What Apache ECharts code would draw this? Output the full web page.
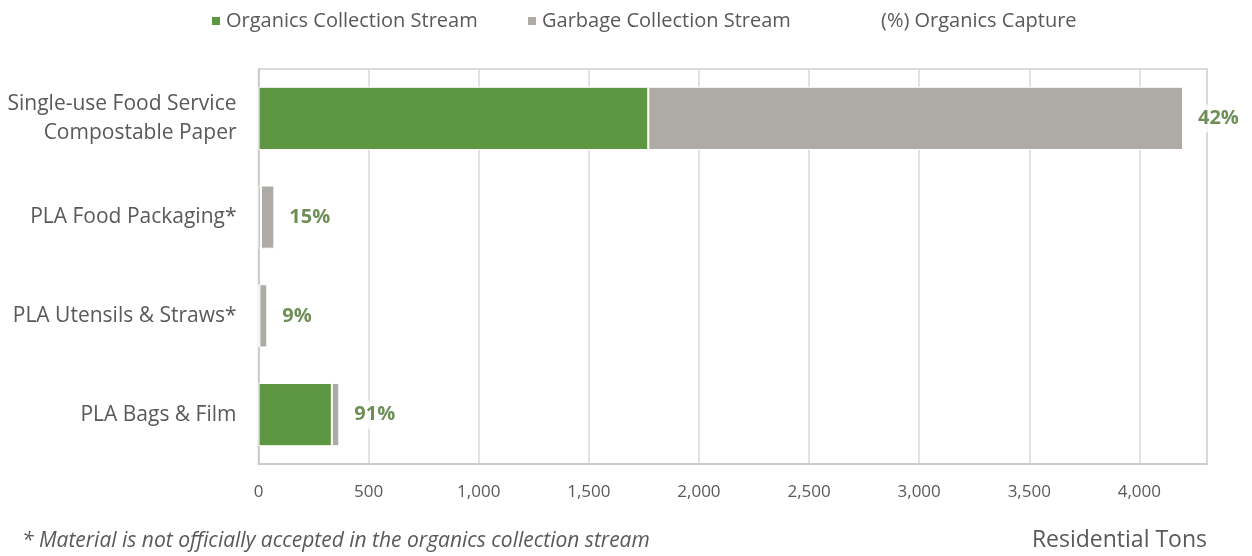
<!DOCTYPE html>
<html><head><meta charset="utf-8">
<script src="https://cdn.jsdelivr.net/npm/echarts@6/dist/echarts.min.js"></script>
<style>html,body{margin:0;padding:0;background:#fff}#c{width:1252px;height:556px}</style>
</head><body><div id="c"></div>
<script>
const categories = ['Single-use Food Service\nCompostable Paper', 'PLA Food Packaging*', 'PLA Utensils & Straws*', 'PLA Bags & Film'];
const organics = [1770, 11, 4, 333];
const garbage = [2428, 61, 36, 34];
const capture = [42, 15, 9, 91];
const xTicks = [0, 500, 1000, 1500, 2000, 2500, 3000, 3500, 4000];
const seriesNames = ['Organics Collection Stream', 'Garbage Collection Stream', '(%) Organics Capture'];

const totals = organics.map((v, i) => v + garbage[i]);
const FONT = 'Open Sans';
const legendText = { fontFamily: FONT, fontSize: 20, color: '#595959' };
const chart = echarts.init(document.getElementById('c'));
chart.setOption({
  animation: false,
  textStyle: { fontFamily: FONT },
  legend: [
    { top: 6, left: 205, itemWidth: 10, itemHeight: 10, itemGap: 8, textStyle: legendText, data: [{ name: seriesNames[0], icon: 'rect' }] },
    { top: 6, left: 521, itemWidth: 10, itemHeight: 10, itemGap: 8, textStyle: legendText, data: [{ name: seriesNames[1], icon: 'rect' }] },
    { top: 6, left: 861, itemWidth: 10, itemHeight: 10, itemGap: 8, textStyle: legendText, data: [{ name: seriesNames[2], icon: 'none' }] }
  ],
  grid: { left: 258.5, right: 45, top: 69, bottom: 92, show: true, borderColor: '#d0d0d0', borderWidth: 1.5 },
  xAxis: {
    type: 'value', min: 0, max: 4307, interval: 500,
    axisLine: { show: true, lineStyle: { color: '#c8c8c8', width: 1.5 } },
    axisTick: { show: false },
    splitLine: { show: true, lineStyle: { color: '#d9d9d9', width: 1.5 } },
    axisLabel: {
      margin: 20, fontFamily: FONT, fontSize: 17, color: '#595959',
      formatter: v => xTicks.includes(v) ? v.toLocaleString('en-US') : ''
    }
  },
  yAxis: {
    type: 'category', data: categories, inverse: true,
    axisLine: { show: true, lineStyle: { color: '#c8c8c8', width: 1.5 } },
    axisTick: { show: false },
    axisLabel: { margin: 22, fontFamily: FONT, fontSize: 21, color: '#595959', lineHeight: 29, align: 'right' }
  },
  graphic: [
    { type: 'text', x: 22, y: 541, style: { text: '* Material is not officially accepted in the organics collection stream', font: 'italic 21px "Open Sans"', fill: '#595959', verticalAlign: 'middle' } },
    { type: 'text', x: 1207, y: 540, style: { text: 'Residential Tons', font: '23px "Open Sans"', fill: '#595959', align: 'right', verticalAlign: 'middle' } }
  ],
  series: [
    {
      name: seriesNames[0], type: 'bar', stack: 't', data: organics,
      barCategoryGap: '36%',
      itemStyle: { color: '#5e9741', borderColor: '#fff', borderWidth: 1 }
    },
    {
      name: seriesNames[1], type: 'bar', stack: 't', data: garbage,
      barCategoryGap: '36%',
      itemStyle: { color: '#aeaba6', borderColor: '#fff', borderWidth: 1 }
    },
    {
      name: seriesNames[2], type: 'scatter', symbolSize: 0,
      data: totals.map((t, i) => [t, i]),
      itemStyle: { color: 'transparent' },
      label: {
        show: true, position: 'right', distance: 13,
        formatter: p => capture[p.dataIndex] + '%',
        fontFamily: FONT, fontSize: 20, fontWeight: 'bold', color: '#48732c',
        backgroundColor: '#fff', padding: [4, 2, 4, 2]
      }
    }
  ]
});
</script></body></html>
